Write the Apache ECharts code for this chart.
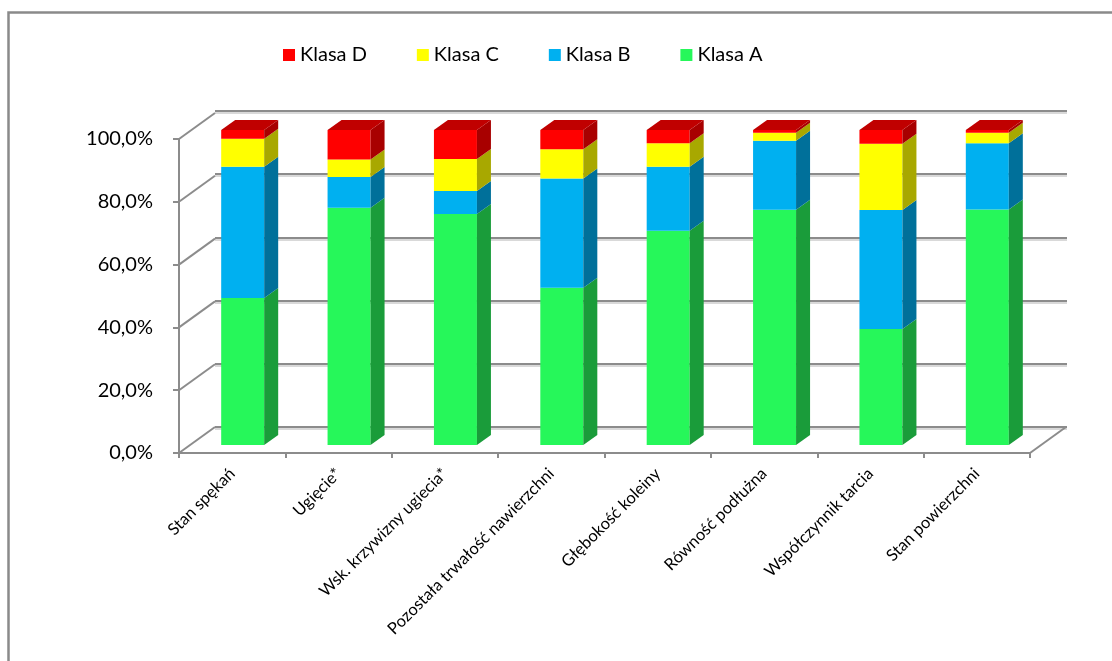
<!DOCTYPE html>
<html>
<head>
<meta charset="utf-8">
<script src="https://cdn.jsdelivr.net/npm/echarts@6/dist/echarts.min.js"></script>
<style>
  html, body { margin: 0; padding: 0; background: #fff; }
  #chart { width: 1112px; height: 661px; }
</style>
</head>
<body>
<div id="chart"></div>
<script>
const categories = [
  'Stan spękań', 'Ugięcie*', 'Wsk. krzywizny ugiecia*', 'Pozostała trwałość nawierzchni',
  'Głębokość koleiny', 'Równość podłużna', 'Współczynnik tarcia', 'Stan powierzchni'
]
const klasaA = [46.7, 75.3, 73.3, 49.9, 68.0, 74.7, 36.8, 74.8]
const klasaB = [41.6, 9.8, 7.3, 34.7, 20.3, 21.9, 37.8, 21.0]
const klasaC = [8.9, 5.5, 10.2, 9.3, 7.5, 2.5, 21.0, 3.3]
const klasaD = [2.8, 9.4, 9.2, 6.1, 4.2, 0.9, 4.4, 0.9]
const yTicks = [0, 20, 40, 60, 80, 100]

const front = ['#26f75a', '#00b0f0', '#ffff00', '#ff0000']
const side = ['#1a9c3a', '#00709a', '#a8a800', '#a80000']
const topFace = '#c00000'
const depth = [14, 10] // bar 3d offset
const wall = [36, 26]  // back wall offset
const font = 'Lato, "Open Sans", sans-serif'

const chart = echarts.init(document.getElementById('chart'))

const names = ['Klasa A', 'Klasa B', 'Klasa C', 'Klasa D']
const values = [klasaA, klasaB, klasaC, klasaD]

const barSeries = names.map((name, k) => ({
  name,
  type: 'bar',
  stack: 'all',
  xAxisIndex: 0,
  yAxisIndex: 0,
  barWidth: 43,
  itemStyle: { color: front[k] },
  data: values[k],
  z: 3,
}))

// side + top faces of the 3d bars
const faces = {
  type: 'custom',
  xAxisIndex: 0,
  yAxisIndex: 0,
  z: 4,
  silent: true,
  data: categories.map((c, i) => [i, klasaA[i], klasaB[i], klasaC[i], klasaD[i]]),
  renderItem(params, api) {
    const i = api.value(0)
    const vals = [api.value(1), api.value(2), api.value(3), api.value(4)]
    const cx = api.coord([i, 0])[0]
    const x0 = cx - 21.5
    const x1 = cx + 21.5
    const children = []
    let acc = 0
    vals.forEach((v, k) => {
      const yb = api.coord([i, acc])[1]
      acc += v
      const yt = api.coord([i, acc])[1]
      children.push({
        type: 'polygon',
        shape: { points: [[x1, yb], [x1, yt], [x1 + depth[0], yt - depth[1]], [x1 + depth[0], yb - depth[1]]] },
        style: { fill: side[k] },
      })
    })
    const yt = api.coord([i, acc])[1]
    children.push({
      type: 'polygon',
      shape: { points: [[x0, yt], [x0 + depth[0], yt - depth[1]], [x1 + depth[0], yt - depth[1]], [x1, yt]] },
      style: { fill: topFace },
    })
    return { type: 'group', children }
  },
}

// left wall diagonals and right floor edge
const wallLines = {
  type: 'custom',
  xAxisIndex: 1,
  yAxisIndex: 1,
  z: 1,
  silent: true,
  data: yTicks.map(v => [0, v]),
  renderItem(params, api) {
    const cs = params.coordSys
    const y = api.coord([0, api.value(1)])[1]
    const children = [{
      type: 'line',
      shape: { x1: cs.x, y1: y, x2: cs.x + wall[0], y2: y - wall[1] },
      style: { stroke: '#8c8c8c', lineWidth: 2 },
    }]
    if (api.value(1) === 0) {
      children.push({
        type: 'line',
        shape: { x1: cs.x + cs.width, y1: y, x2: cs.x + cs.width + wall[0], y2: y - wall[1] },
        style: { stroke: '#8c8c8c', lineWidth: 2 },
      })
    }
    return { type: 'group', children }
  },
}

chart.setOption({
  animation: false,
  graphic: [{
    type: 'rect',
    shape: { x: 8.5, y: 12.5, width: 1200, height: 800 },
    style: { fill: 'none', stroke: '#8a8a8a', lineWidth: 2.5 },
  }],
  legend: {
    data: ['Klasa D', 'Klasa C', 'Klasa B', 'Klasa A'],
    top: 40,
    left: 278,
    icon: 'rect',
    itemWidth: 12,
    itemHeight: 12,
    itemGap: 50,
    textStyle: { fontFamily: font, fontSize: 20, color: '#000' },
  },
  grid: [
    { left: 189.5, right: 71.5, top: 130, bottom: 216 },  // bars
    { left: 179, right: 82, top: 139, bottom: 208 },      // front axes
    { left: 215, right: 45, top: 111, bottom: 234 },      // back wall
  ],
  xAxis: [
    { type: 'category', gridIndex: 0, data: categories, show: false },
    {
      type: 'category',
      gridIndex: 1,
      data: categories,
      axisLine: { lineStyle: { color: '#8c8c8c', width: 2 } },
      axisTick: { show: true, length: 5, lineStyle: { color: '#8c8c8c', width: 2 } },
      axisLabel: { rotate: 45, margin: 18, fontFamily: font, fontSize: 16.5, color: '#000' },
    },
    { type: 'category', gridIndex: 2, data: categories, show: false },
  ],
  yAxis: [
    { type: 'value', gridIndex: 0, min: 0, max: 100, interval: 20, show: false },
    {
      type: 'value',
      gridIndex: 1,
      min: 0,
      max: 100,
      interval: 20,
      axisLine: { show: true, lineStyle: { color: '#8c8c8c', width: 2 } },
      axisTick: { show: true, length: 6, lineStyle: { color: '#8c8c8c', width: 2 } },
      splitLine: { show: false },
      axisLabel: {
        margin: 26,
        fontFamily: font,
        fontSize: 20,
        color: '#000',
        formatter: v => v.toFixed(1).replace('.', ',') + '%',
      },
    },
    {
      type: 'value',
      gridIndex: 2,
      min: 0,
      max: 100,
      interval: 20,
      axisLine: { show: false },
      axisTick: { show: false },
      axisLabel: { show: false },
      splitLine: { lineStyle: { color: '#8c8c8c', width: 2, shadowColor: '#d9d9d9', shadowOffsetY: 2, shadowBlur: 0 } },
    },
  ],
  series: [...barSeries, faces, wallLines],
})
</script>
</body>
</html>
